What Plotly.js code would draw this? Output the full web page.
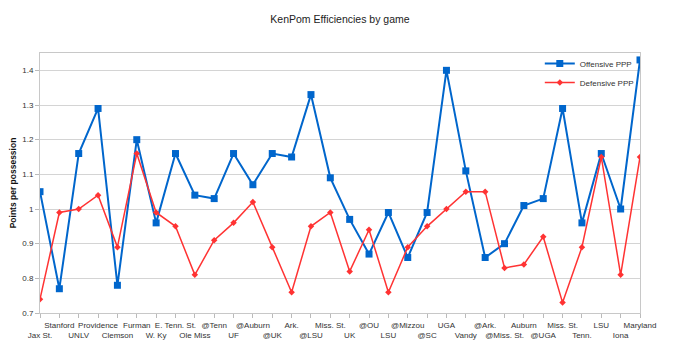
<!DOCTYPE html>
<html><head><meta charset="utf-8">
<script src="https://cdn.plot.ly/plotly-3.0.1.min.js"></script>
<style>html,body{margin:0;padding:0;background:#fff;}#chart{width:680px;height:353px;}</style>
</head><body><div id="chart"></div>
<script>
var games = ["Jax St.","Stanford","UNLV","Providence","Clemson","Furman","W. Ky","E. Tenn. St.","Ole Miss","@Tenn","UF","@Auburn","@UK","Ark.","@LSU","Miss. St.","UK","@OU","LSU","@Mizzou","@SC","UGA","Vandy","@Ark.","@Miss. St.","Auburn","@UGA","Miss. St.","Tenn.","LSU","Iona","Maryland"];
var offensivePPP = [1.05,0.77,1.16,1.29,0.78,1.20,0.96,1.16,1.04,1.03,1.16,1.07,1.16,1.15,1.33,1.09,0.97,0.87,0.99,0.86,0.99,1.40,1.11,0.86,0.90,1.01,1.03,1.29,0.96,1.16,1.00,1.43];
var defensivePPP = [0.74,0.99,1.00,1.04,0.89,1.16,0.99,0.95,0.81,0.91,0.96,1.02,0.89,0.76,0.95,0.99,0.82,0.94,0.76,0.89,0.95,1.00,1.05,1.05,0.83,0.84,0.92,0.73,0.89,1.15,0.81,1.15];

var idx = games.map(function(_, i){ return i; });
var tickLabels = games.map(function(g, i){ return (i % 2 === 0) ? "<br>" + g : g; });

var traces = [
  {x: idx, y: offensivePPP, name: "Offensive PPP", mode: "lines+markers", type: "scatter",
   line: {color: "#0066cc", width: 2}, marker: {symbol: "square", size: 7, color: "#0066cc"}},
  {x: idx, y: defensivePPP, name: "Defensive PPP", mode: "lines+markers", type: "scatter",
   line: {color: "#ff3333", width: 1.5}, marker: {symbol: "diamond", size: 5, color: "#ff3333"}}
];

var layout = {
  width: 680, height: 353,
  margin: {l: 40, r: 40, t: 53, b: 40},
  paper_bgcolor: "#fff", plot_bgcolor: "#fff",
  font: {family: "Liberation Sans, Arial, sans-serif", size: 8, color: "#333"},
  title: {text: "KenPom Efficiencies by game", x: 0.5, xanchor: "center", y: 0.945, yanchor: "middle",
          font: {size: 10.5, color: "#222"}},
  showlegend: true,
  legend: {x: 0.998, xanchor: "right", y: 1.015, yanchor: "top", bgcolor: "rgba(0,0,0,0)",
           font: {size: 8, color: "#333"}, tracegroupgap: 0, itemwidth: 30},
  xaxis: {range: [0, games.length - 1], tickmode: "array", tickvals: idx, ticktext: tickLabels,
          tickangle: 0, ticks: "outside", ticklen: 4, tickcolor: "#bbb",
          showgrid: false, zeroline: false, showline: true, linecolor: "#c8c8c8", mirror: true,
          tickfont: {size: 8, color: "#333"}, fixedrange: true},
  yaxis: {range: [0.7, 1.45], dtick: 0.1, tick0: 0.7, showgrid: true, gridcolor: "#d4d4d4",
          zeroline: false, showline: true, linecolor: "#c8c8c8", mirror: true,
          ticks: "outside", ticklen: 4, tickcolor: "#bbb",
          tickfont: {size: 8, color: "#333"},
          title: {text: "<b>Points per possession</b>", font: {size: 8.5, color: "#111"}, standoff: 4}}
};

Plotly.newPlot("chart", traces, layout, {displayModeBar: false, staticPlot: true});
</script>
</body></html>
